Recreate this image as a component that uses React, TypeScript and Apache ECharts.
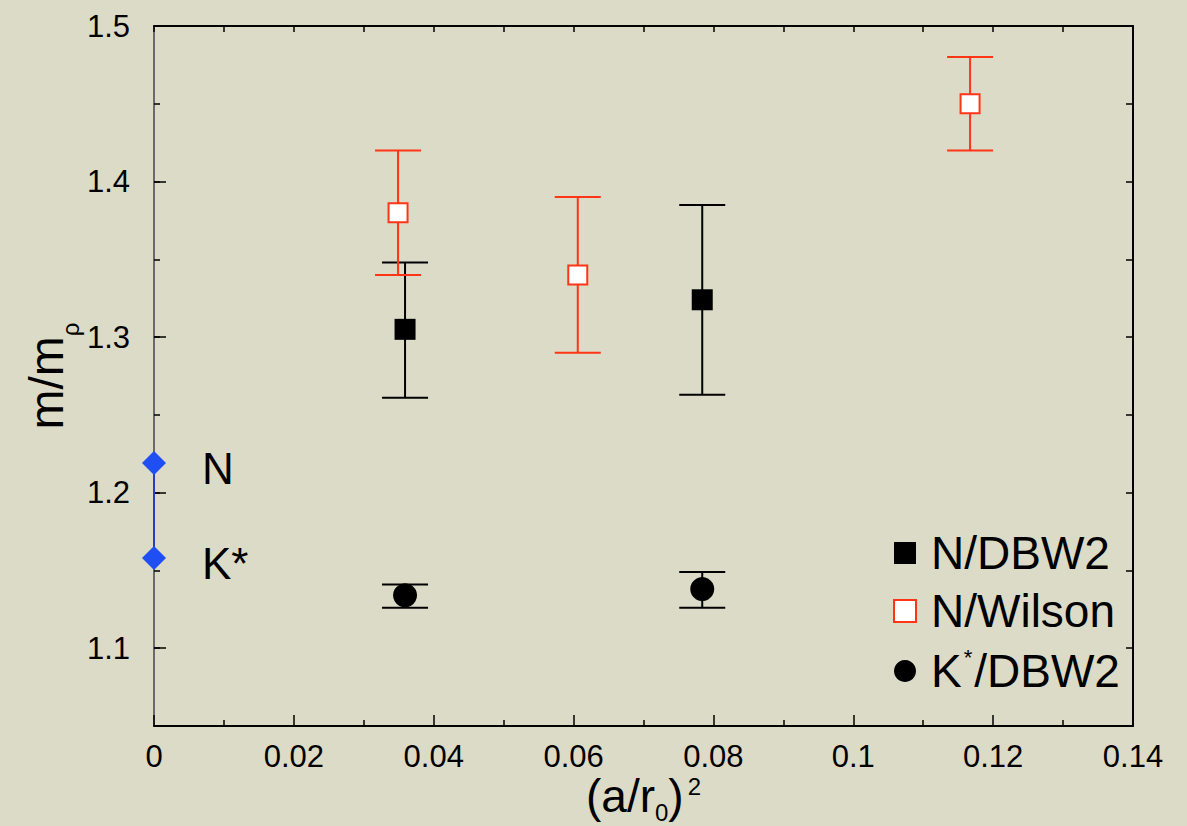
import React, { useEffect, useRef } from "react";
import * as echarts from "echarts";

// ---- data ----
const xTickValues = [0, 0.02, 0.04, 0.06, 0.08, 0.1, 0.12, 0.14];
const yLabelValues = [1.1, 1.2, 1.3, 1.4, 1.5];

const dbw2NX = [0.0359, 0.0784];
const dbw2NY = [1.305, 1.324];
const dbw2NLo = [1.261, 1.263];
const dbw2NHi = [1.348, 1.385];

const wilsonNX = [0.0349, 0.0606, 0.1167];
const wilsonNY = [1.38, 1.34, 1.45];
const wilsonNLo = [1.34, 1.29, 1.42];
const wilsonNHi = [1.42, 1.39, 1.48];

const dbw2KX = [0.0359, 0.0784];
const dbw2KY = [1.134, 1.138];
const dbw2KLo = [1.126, 1.126];
const dbw2KHi = [1.141, 1.149];

const physNames = ["N", "K*"];
const physX = [0, 0];
const physY = [1.219, 1.158];

const FONT = '"Liberation Sans", Arial, Helvetica, sans-serif';
const RED = "#ff3515";

function errBars(name: string, xs: number[], lo: number[], hi: number[], color: string) {
  return {
    type: "custom",
    name,
    xAxisIndex: 0,
    yAxisIndex: 0,
    silent: true,
    z: 2,
    data: xs.map((x, i) => [x, lo[i], hi[i]]),
    encode: { x: 0, y: [1, 2] },
    renderItem: (params: any, api: any) => {
      const x = api.value(0);
      const pLo = api.coord([x, api.value(1)]);
      const pHi = api.coord([x, api.value(2)]);
      const hw = 23;
      const style = { stroke: color, lineWidth: 2, fill: "none" };
      return {
        type: "group",
        children: [
          { type: "line", shape: { x1: pLo[0], y1: pLo[1], x2: pHi[0], y2: pHi[1] }, style },
          { type: "line", shape: { x1: pLo[0] - hw, y1: pLo[1], x2: pLo[0] + hw, y2: pLo[1] }, style },
          { type: "line", shape: { x1: pHi[0] - hw, y1: pHi[1], x2: pHi[0] + hw, y2: pHi[1] }, style },
        ],
      };
    },
  };
}

export default function App() {
  const ref = useRef<HTMLDivElement>(null);
  useEffect(() => {
    if (!ref.current) return;
    const chart = echarts.init(ref.current, undefined, { renderer: "svg" });
    const tickLine = { color: "#000", width: 1.5 };
    const option: any = {
      animation: false,
      backgroundColor: "#dcdbc7",
      textStyle: { fontFamily: FONT },
      grid: { left: 154, top: 26, right: 54, bottom: 100, containLabel: false, outerBoundsMode: "none" },
      xAxis: [
        {
          type: "value",
          position: "bottom",
          min: 0,
          max: 0.14,
          interval: 0.02,
          axisLine: { show: true, onZero: false, lineStyle: { color: "#000", width: 2 } },
          axisTick: { show: true, inside: true, length: 11, lineStyle: tickLine },
          minorTick: { show: true, splitNumber: 2, length: 6, lineStyle: tickLine },
          splitLine: { show: false },
          minorSplitLine: { show: false },
          axisLabel: {
            customValues: xTickValues,
            fontSize: 31,
            color: "#000",
            fontFamily: FONT,
            margin: 15,
            formatter: (v: number) => String(+v.toFixed(2)),
          },
          name: "{t|(a/r}{sub|0}{t|)}{sup|2}",
          nameLocation: "middle",
          nameGap: 47,
          nameMoveOverlap: false,
          nameTextStyle: {
            rich: {
              t: { fontSize: 46, fontFamily: FONT, color: "#000", verticalAlign: "middle" },
              sub: { fontSize: 24, fontFamily: FONT, color: "#000", verticalAlign: "bottom", padding: [0, 0, -5, 0] },
              sup: { fontSize: 24, fontFamily: FONT, color: "#000", verticalAlign: "top", padding: [1, 0, 0, 4] },
            },
          },
        },
        {
          type: "value",
          position: "top",
          min: 0,
          max: 0.14,
          interval: 0.01,
          axisLine: { show: true, onZero: false, lineStyle: { color: "#000", width: 2 } },
          axisTick: { show: true, inside: true, length: 6, lineStyle: tickLine },
          axisLabel: { show: false },
          splitLine: { show: false },
        },
      ],
      yAxis: [
        {
          type: "value",
          position: "left",
          min: 1.05,
          max: 1.5,
          interval: 0.05,
          axisLine: { show: true, onZero: false, lineStyle: { color: "#6a6a6a", width: 2 } },
          axisTick: { show: true, inside: true, length: 6, lineStyle: tickLine },
          splitLine: { show: false },
          axisLabel: {
            customValues: yLabelValues,
            fontSize: 31,
            color: "#000",
            fontFamily: FONT,
            margin: 24,
            formatter: (v: number) => v.toFixed(1),
          },
          name: "{t|m/m}{sub|ρ}",
          nameLocation: "middle",
          nameRotate: 90,
          nameGap: 84,
          nameMoveOverlap: false,
          nameTextStyle: {
            rich: {
              t: { fontSize: 48, fontFamily: FONT, color: "#000" },
              sub: { fontSize: 24, fontFamily: FONT, color: "#000", verticalAlign: "bottom", padding: [0, 0, -12, 0] },
            },
          },
        },
        {
          type: "value",
          position: "left",
          min: 1.05,
          max: 1.5,
          axisLine: { show: false },
          axisTick: { show: true, inside: true, length: 12, lineStyle: tickLine, customValues: yLabelValues },
          axisLabel: { show: false },
          splitLine: { show: false },
        },
        {
          type: "value",
          position: "right",
          min: 1.05,
          max: 1.5,
          interval: 0.05,
          axisLine: { show: true, onZero: false, lineStyle: { color: "#000", width: 2 } },
          axisTick: { show: true, inside: true, length: 7, lineStyle: tickLine },
          axisLabel: { show: false },
          splitLine: { show: false },
        },
      ],
      legend: {
        orient: "vertical",
        left: 888,
        top: 525,
        itemWidth: 22,
        itemHeight: 22,
        itemGap: 12,
        selectedMode: false,
        data: [
          { name: "N/DBW2", icon: "rect" },
          { name: "N/Wilson", icon: "rect" },
          { name: "K*/DBW2", icon: "circle" },
        ],
        formatter: (name: string) =>
          name === "K*/DBW2" ? "{sp| }{t|K}{sup|*}{t|/DBW2}" : `{sp| }{t|${name}}`,
        textStyle: {
          rich: {
            sp: { width: 10 },
            t: { fontSize: 46, fontFamily: FONT, color: "#000", lineHeight: 50 },
            sup: { fontSize: 22, fontFamily: FONT, color: "#000", verticalAlign: "top", lineHeight: 22, padding: [0, 2, 0, 2] },
          },
        },
      },
      series: [
        errBars("errN", dbw2NX, dbw2NLo, dbw2NHi, "#000"),
        errBars("errW", wilsonNX, wilsonNLo, wilsonNHi, RED),
        errBars("errK", dbw2KX, dbw2KLo, dbw2KHi, "#000"),
        {
          type: "scatter",
          name: "N/DBW2",
          symbol: "rect",
          symbolSize: 21,
          z: 3,
          itemStyle: { color: "#000", opacity: 1 },
          data: dbw2NX.map((x, i) => [x, dbw2NY[i]]),
        },
        {
          type: "scatter",
          name: "N/Wilson",
          symbol: "rect",
          symbolSize: 19,
          z: 3,
          itemStyle: { color: "#fff", borderColor: RED, borderWidth: 2, opacity: 1 },
          data: wilsonNX.map((x, i) => [x, wilsonNY[i]]),
        },
        {
          type: "scatter",
          name: "K*/DBW2",
          symbol: "circle",
          symbolSize: 24,
          z: 3,
          itemStyle: { color: "#000", opacity: 1 },
          data: dbw2KX.map((x, i) => [x, dbw2KY[i]]),
        },
        {
          type: "line",
          name: "physical",
          clip: false,
          z: 4,
          symbol: "diamond",
          symbolSize: [24, 24],
          lineStyle: { color: "#2a3cc8", width: 2 },
          itemStyle: { color: "#1f4ef2" },
          label: {
            show: true,
            position: "right",
            distance: 36,
            fontSize: 44,
            fontFamily: FONT,
            color: "#000",
            offset: [0, 5],
            formatter: (p: any) => physNames[p.dataIndex],
          },
          data: physX.map((x, i) => [x, physY[i]]),
        },
      ],
    };
    chart.setOption(option);
    return () => chart.dispose();
  }, []);
  return (
    <div
      ref={ref}
      style={{ position: "fixed", left: 0, top: 0, width: 1187, height: 826, background: "#dcdbc7" }}
    />
  );
}
